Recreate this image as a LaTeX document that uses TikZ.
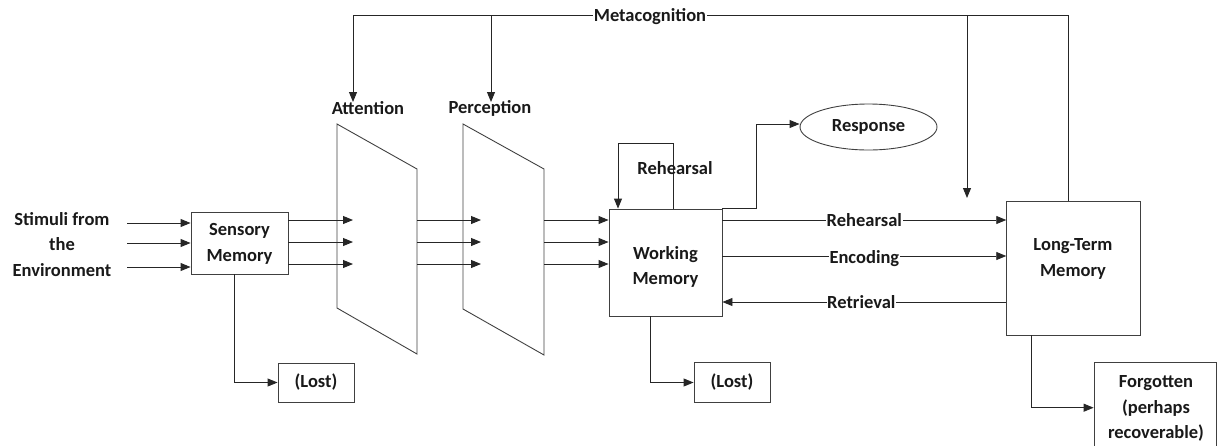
\documentclass[tikz,border=0pt]{standalone}
\usepackage{fontspec}
\setmainfont{Carlito}
\usetikzlibrary{arrows.meta,calc,shapes.geometric}
\begin{document}
\begin{tikzpicture}[x=1pt,y=-1pt,
  every node/.style={font=\bfseries\fontsize{18.5}{25.3}\selectfont, text=black!90, align=center},
  box/.style={draw=black!75, line width=0.9pt, inner sep=0pt},
  wire/.style={draw=black!85, line width=0.9pt},
  arr/.style={wire, -{Triangle[length=10pt,width=8pt]}},
  tag/.style={fill=white, inner sep=0.6pt},
  plain/.style={inner sep=0pt},
]
\clip (0,0) rectangle (1217,445);

% ---- input side ----
\node[plain] (stim) at (62,244.5) {Stimuli from\\the\\Environment};
\node[box, minimum width=97pt, minimum height=62pt] (sens) at (239.5,243) {};
\node[plain] (senstext) at (239.5,244) {Sensory\\Memory};
\foreach \y [count=\i] in {223,243,267} {
  \coordinate (in\i) at (127,\y);
  \draw[arr] (in\i) -- (sens.west |- in\i);
}

% ---- attention and perception filters ----
\coordinate (A1) at (337,124); \coordinate (A2) at (417,169);
\coordinate (A3) at (417,354); \coordinate (A4) at (337,308);
\coordinate (P1) at (463,124); \coordinate (P2) at (544,169);
\coordinate (P3) at (544,355); \coordinate (P4) at (463,309);
\draw[box] (A1) -- (A2) -- (A3) -- (A4) -- cycle;
\draw[box] (P1) -- (P2) -- (P3) -- (P4) -- cycle;
\node[plain] (attn) at (368,108) {Attention};
\node[plain] (perc) at (490,108) {Perception};

% ---- working memory ----
\node[box, minimum width=113pt, minimum height=107pt] (wm) at (665.5,262.5) {};
\node[plain] (wmtext) at (665.5,267) {Working\\Memory};

\foreach \y [count=\i] in {220,242,264} {
  \coordinate (ta\i) at (353,\y);
  \coordinate (tp\i) at (481,\y);
  \draw[arr] (sens.east |- ta\i) -- (ta\i);
  \draw[arr] (A2 |- tp\i) -- (tp\i);
  \draw[arr] (P2 |- tp\i) -- (wm.west |- tp\i);
}

% rehearsal loop on working memory
\coordinate (loopR) at (673,143);
\coordinate (loopL) at (618,143);
\draw[arr] (wm.north -| loopR) -- (loopR) -- (loopL) -- (wm.north -| loopL);
\node[plain] (reh1) at (675,168) {Rehearsal};

% response
\node[draw=black!75, line width=0.9pt, ellipse, minimum width=137pt, minimum height=46pt, inner sep=0pt] (resp) at (868.5,127) {Response};
\coordinate (rj) at (756,124);
\draw[arr] (wm.north east) -| (rj) -- (resp.west |- rj);

% ---- long-term memory ----
\node[box, minimum width=134pt, minimum height=134pt] (ltm) at (1073.7,268) {};
\node[plain] (ltmtext) at (1073,259) {Long-Term\\Memory};

\coordinate (yR) at (0,220);
\coordinate (yE) at (0,256);
\coordinate (yT) at (0,302);
\draw[arr] (wm.east |- yR) -- (ltm.west |- yR) node[tag, pos=0.5] (lreh) {Rehearsal};
\draw[arr] (wm.east |- yE) -- (ltm.west |- yE) node[tag, pos=0.5, yshift=-2.5pt] (lenc) {Encoding};
\draw[arr] (ltm.west |- yT) -- (wm.east |- yT) node[tag, pos=0.5, xshift=-3pt] (lret) {Retrieval};

% ---- metacognition ----
\coordinate (mTR) at (1068,15);
\coordinate (mTL) at (353,15);
\coordinate (mTP) at (491,15);
\coordinate (mTM) at (967,15);
\coordinate (mArr) at (967,198);
\draw[wire] (ltm.north -| mTR) -- (mTR) -- (mTL);
\draw[arr] (mTL) -- (353,102);
\draw[arr] (mTP) -- (491,102);
\draw[arr] (mTM) -- (mArr);
\node[tag] (meta) at (650,17) {Metacognition};

% ---- losses ----
\node[box, minimum width=76pt, minimum height=39pt] (lost1) at (316,382.5) {(Lost)};
\draw[arr] ($(sens.south)+(-5,0)$) |- (lost1.west);
\node[box, minimum width=76pt, minimum height=40pt] (lost2) at (732,382.5) {(Lost)};
\draw[arr] ($(wm.south)+(-15.5,0)$) |- (lost2.west);
\node[box, minimum width=122.5pt, minimum height=90pt] (forg) at (1155.3,407.7) {};
\node[plain] (forgtext) at (1156,408.5) {Forgotten\\(perhaps\\recoverable)};
\draw[arr] ($(ltm.south)+(-42,0)$) |- (forg.west);
\end{tikzpicture}
\end{document}
